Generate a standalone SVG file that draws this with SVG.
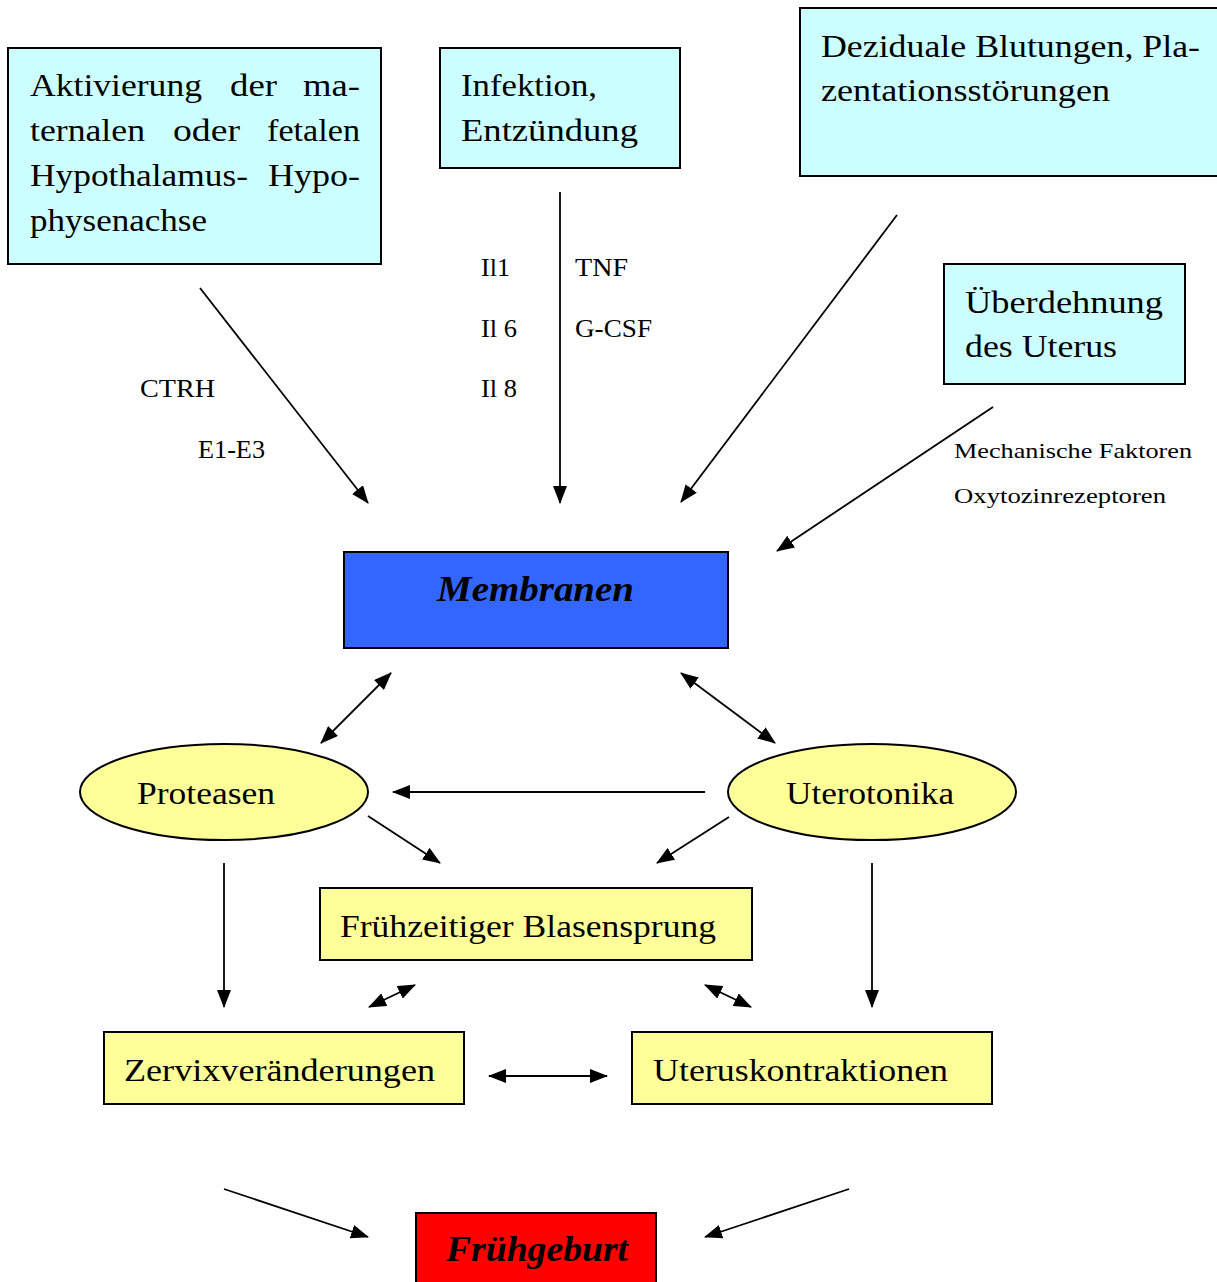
<svg xmlns="http://www.w3.org/2000/svg" width="1217" height="1282" viewBox="0 0 1217 1282">
<style>
.t{font-family:"Liberation Serif","Times New Roman",serif;fill:#000}
.b{font-size:32px}
.s{font-size:25px}
.xs{font-size:22px}
.bi{font-size:36px;font-weight:bold;font-style:italic}
.cyan{fill:#ccffff;stroke:#000;stroke-width:2}
.yel{fill:#ffff99;stroke:#000;stroke-width:2}
.ln{stroke:#000;stroke-width:1.8;fill:none}
</style>
<defs>
<marker id="ah" markerUnits="userSpaceOnUse" markerWidth="18" markerHeight="14" refX="17" refY="7" orient="auto-start-reverse" viewBox="0 0 18 14">
<path d="M0,0 L18,7 L0,14 z" fill="#000"/>
</marker>
</defs>
<rect width="1217" height="1282" fill="#fff"/>

<g id="n-hypothalamus">
<rect class="cyan" x="8" y="48" width="373" height="216"/>
<text class="t b" x="30" y="96" textLength="172" lengthAdjust="spacingAndGlyphs">Aktivierung</text>
<text class="t b" x="230" y="96" textLength="47" lengthAdjust="spacingAndGlyphs">der</text>
<text class="t b" x="303" y="96" textLength="57" lengthAdjust="spacingAndGlyphs">ma-</text>
<text class="t b" x="30" y="141" textLength="115" lengthAdjust="spacingAndGlyphs">ternalen</text>
<text class="t b" x="173" y="141" textLength="67" lengthAdjust="spacingAndGlyphs">oder</text>
<text class="t b" x="267" y="141" textLength="93" lengthAdjust="spacingAndGlyphs">fetalen</text>
<text class="t b" x="30" y="186" textLength="218" lengthAdjust="spacingAndGlyphs">Hypothalamus-</text>
<text class="t b" x="268" y="186" textLength="92" lengthAdjust="spacingAndGlyphs">Hypo-</text>
<text class="t b" x="30" y="231" textLength="177" lengthAdjust="spacingAndGlyphs">physenachse</text>
</g>

<g id="n-infektion">
<rect class="cyan" x="440" y="48" width="240" height="120"/>
<text class="t b" x="461" y="96" textLength="136" lengthAdjust="spacingAndGlyphs">Infektion,</text>
<text class="t b" x="461" y="141" textLength="177" lengthAdjust="spacingAndGlyphs">Entzündung</text>
</g>

<g id="n-dezidual">
<rect class="cyan" x="800" y="8" width="430" height="168"/>
<text class="t b" x="821" y="57" textLength="379" lengthAdjust="spacingAndGlyphs">Deziduale Blutungen, Pla-</text>
<text class="t b" x="821" y="101" textLength="289" lengthAdjust="spacingAndGlyphs">zentationsstörungen</text>
</g>

<g id="n-ueberdehnung">
<rect class="cyan" x="944" y="264" width="241" height="120"/>
<text class="t b" x="965" y="313" textLength="198" lengthAdjust="spacingAndGlyphs">Überdehnung</text>
<text class="t b" x="965" y="357" textLength="152" lengthAdjust="spacingAndGlyphs">des Uterus</text>
</g>

<g id="labels">
<text class="t s" x="140" y="397" textLength="75" lengthAdjust="spacingAndGlyphs">CTRH</text>
<text class="t s" x="198" y="458" textLength="67" lengthAdjust="spacingAndGlyphs">E1-E3</text>
<text class="t s" x="481" y="276" textLength="29" lengthAdjust="spacingAndGlyphs">Il1</text>
<text class="t s" x="481" y="337" textLength="36" lengthAdjust="spacingAndGlyphs">Il 6</text>
<text class="t s" x="481" y="397" textLength="36" lengthAdjust="spacingAndGlyphs">Il 8</text>
<text class="t s" x="575" y="276" textLength="53" lengthAdjust="spacingAndGlyphs">TNF</text>
<text class="t s" x="575" y="337" textLength="77" lengthAdjust="spacingAndGlyphs">G-CSF</text>
<text class="t xs" x="954" y="458" textLength="238" lengthAdjust="spacingAndGlyphs">Mechanische Faktoren</text>
<text class="t xs" x="954" y="503" textLength="212" lengthAdjust="spacingAndGlyphs">Oxytozinrezeptoren</text>
</g>

<g id="n-membranen">
<rect x="344" y="552" width="384" height="96" fill="#3366ff" stroke="#000" stroke-width="2"/>
<text class="t bi" x="437" y="601" textLength="197" lengthAdjust="spacingAndGlyphs">Membranen</text>
</g>

<g id="n-proteasen">
<ellipse class="yel" cx="224" cy="792" rx="144" ry="48"/>
<text class="t b" x="137" y="804" textLength="138" lengthAdjust="spacingAndGlyphs">Proteasen</text>
</g>

<g id="n-uterotonika">
<ellipse class="yel" cx="872" cy="792" rx="144" ry="48"/>
<text class="t b" x="786" y="804" textLength="168" lengthAdjust="spacingAndGlyphs">Uterotonika</text>
</g>

<g id="n-blasensprung">
<rect class="yel" x="320" y="888" width="432" height="72"/>
<text class="t b" x="340" y="937" textLength="376" lengthAdjust="spacingAndGlyphs">Frühzeitiger Blasensprung</text>
</g>

<g id="n-zervix">
<rect class="yel" x="104" y="1032" width="360" height="72"/>
<text class="t b" x="124" y="1081" textLength="311" lengthAdjust="spacingAndGlyphs">Zervixveränderungen</text>
</g>

<g id="n-kontraktionen">
<rect class="yel" x="632" y="1032" width="360" height="72"/>
<text class="t b" x="653" y="1081" textLength="295" lengthAdjust="spacingAndGlyphs">Uteruskontraktionen</text>
</g>

<g id="n-fruehgeburt">
<rect x="416" y="1213" width="240" height="80" fill="#ff0000" stroke="#000" stroke-width="2"/>
<text class="t bi" x="446" y="1261" textLength="182" lengthAdjust="spacingAndGlyphs">Frühgeburt</text>
</g>

<g id="connectors">
<line class="ln" x1="200" y1="288" x2="368" y2="503" marker-end="url(#ah)"/>
<line class="ln" x1="560" y1="192" x2="560" y2="503" marker-end="url(#ah)"/>
<line class="ln" x1="897" y1="215" x2="681" y2="502" marker-end="url(#ah)"/>
<line class="ln" x1="993" y1="407" x2="777" y2="551" marker-end="url(#ah)"/>
<line class="ln" x1="391" y1="673" x2="321" y2="743" marker-start="url(#ah)" marker-end="url(#ah)"/>
<line class="ln" x1="681" y1="673" x2="775" y2="743" marker-start="url(#ah)" marker-end="url(#ah)"/>
<line class="ln" x1="705" y1="792" x2="393" y2="792" marker-end="url(#ah)"/>
<line class="ln" x1="368" y1="816" x2="440" y2="863" marker-end="url(#ah)"/>
<line class="ln" x1="729" y1="817" x2="657" y2="863" marker-end="url(#ah)"/>
<line class="ln" x1="224" y1="863" x2="224" y2="1007" marker-end="url(#ah)"/>
<line class="ln" x1="872" y1="863" x2="872" y2="1007" marker-end="url(#ah)"/>
<line class="ln" x1="415" y1="985" x2="369" y2="1007" marker-start="url(#ah)" marker-end="url(#ah)"/>
<line class="ln" x1="705" y1="985" x2="751" y2="1007" marker-start="url(#ah)" marker-end="url(#ah)"/>
<line class="ln" x1="489" y1="1076" x2="607" y2="1076" marker-start="url(#ah)" marker-end="url(#ah)"/>
<line class="ln" x1="224" y1="1189" x2="368" y2="1237" marker-end="url(#ah)"/>
<line class="ln" x1="849" y1="1189" x2="705" y2="1237" marker-end="url(#ah)"/>
</g>
</svg>
